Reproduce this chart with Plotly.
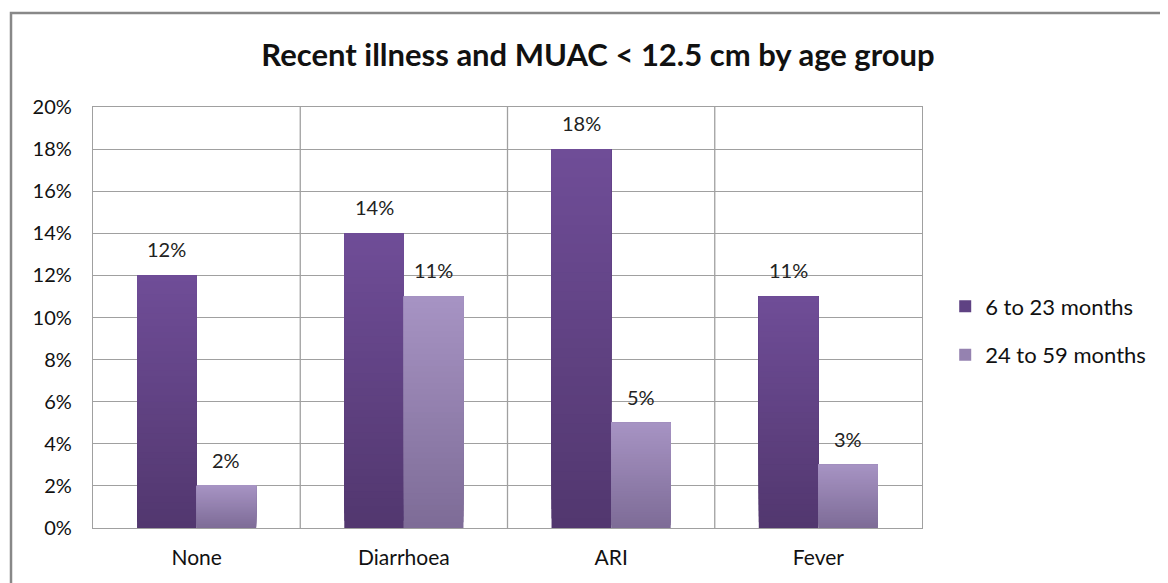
import plotly.graph_objects as go

categories = ["None", "Diarrhoea", "ARI", "Fever"]
series_names = ["6 to 23 months", "24 to 59 months"]
values_6_23 = [0.12, 0.14, 0.18, 0.11]
values_24_59 = [0.02, 0.11, 0.05, 0.03]
label_6_23 = ["12%", "14%", "18%", "11%"]
label_24_59 = ["2%", "11%", "5%", "3%"]
y_ticks = [0, 0.02, 0.04, 0.06, 0.08, 0.10, 0.12, 0.14, 0.16, 0.18, 0.20]

# gradient colours (bottom, top)
grad = [((0x52, 0x37, 0x6f), (0x6f, 0x4d, 0x97)),
        ((0x7e, 0x6c, 0x97), (0xa6, 0x93, 0xc3))]
legend_colors = ["#5f4283", "#9582b0"]

N = 40
BW = 0.2875
offsets = [-BW, 0.0]
FONT = "Lato, 'Open Sans', sans-serif"

fig = go.Figure()
xs = list(range(len(categories)))

for s, vals in enumerate([values_6_23, values_24_59]):
    (b0, b1) = grad[s]
    for k in range(N):
        t = k / (N - 1)
        col = "rgb(%d,%d,%d)" % tuple(round(b0[i] + (b1[i] - b0[i]) * t) for i in range(3))
        bases = [v * k / N for v in vals]
        heights = [v - b for v, b in zip(vals, bases)]
        fig.add_trace(go.Bar(
            x=xs, y=heights, base=bases,
            width=BW, offset=offsets[s],
            marker=dict(color=col, line=dict(width=0)),
            showlegend=False, hoverinfo="skip",
        ))
    # legend entry
    fig.add_trace(go.Bar(
        x=[None], y=[None], name=series_names[s],
        marker=dict(color=legend_colors[s], line=dict(width=0)),
        legendgroup=series_names[s], showlegend=True,
    ))

for s, (vals, labs) in enumerate([(values_6_23, label_6_23), (values_24_59, label_24_59)]):
    for i, (v, lab) in enumerate(zip(vals, labs)):
        fig.add_annotation(
            x=i + offsets[s] + BW / 2, y=v, text=lab, showarrow=False,
            yanchor="bottom", yshift=12, xref="x", yref="y",
            font=dict(family=FONT, size=20, color="#222"),
        )

fig.update_layout(
    width=1160, height=575,
    margin=dict(l=85, r=246, t=99, b=55),
    paper_bgcolor="white", plot_bgcolor="white",
    barmode="overlay",
    font=dict(family=FONT, size=20, color="#111"),
    title=dict(
        text="<b>Recent illness and MUAC &lt; 12.5 cm by age group</b>",
        x=590 / 1160, xref="container", xanchor="center",
        y=1 - 47 / 575, yref="container", yanchor="middle",
        font=dict(size=31, color="#111"),
    ),
    legend=dict(
        x=1.028, y=0.468, xanchor="left", yanchor="middle",
        font=dict(size=22), tracegroupgap=17, bgcolor="rgba(0,0,0,0)",
        itemwidth=30,
    ),
    showlegend=True,
)

fig.update_xaxes(
    tickvals=xs, ticktext=categories, range=[-0.5, 3.5],
    showgrid=False, zeroline=False,
    showline=True, linecolor="#a0a0a0", linewidth=1.3, mirror=True,
    ticks="", ticklabelstandoff=11, tickfont=dict(size=21),
)
fig.update_yaxes(
    range=[0, 0.20], tickvals=y_ticks, tickformat=".0%",
    showgrid=True, gridcolor="#a0a0a0", gridwidth=1.3,
    zeroline=False, showline=True, linecolor="#a0a0a0", linewidth=1.3, mirror=True,
    ticks="", ticklabelstandoff=16, tickfont=dict(size=20),
)

# vertical category boundary lines
for b in [0.5, 1.5, 2.5]:
    fig.add_shape(type="line", xref="x", yref="paper", x0=b, x1=b, y0=0, y1=1,
                  line=dict(color="#a0a0a0", width=1.3), layer="below")

# outer chart border
fig.add_shape(type="rect", xref="paper", yref="paper",
              x0=(3 - 85) / 829, x1=1.6, y0=-0.6, y1=1 + 94 / 421,
              line=dict(color="#888888", width=2.5), fillcolor="rgba(0,0,0,0)", layer="below")

fig.write_html("out.html")
